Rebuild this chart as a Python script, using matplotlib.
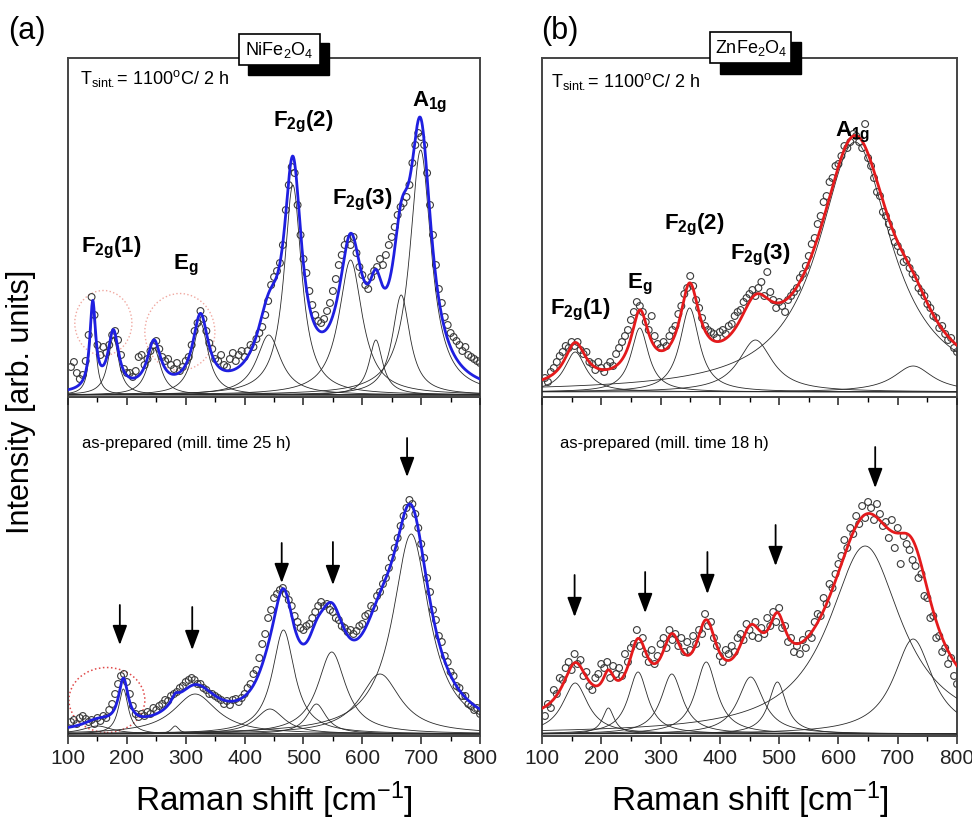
import numpy as np
import matplotlib
matplotlib.use('Agg')
import matplotlib.pyplot as plt
from matplotlib.patches import Ellipse, Rectangle
from matplotlib.ticker import MultipleLocator

plt.rcParams['font.family'] = ['Liberation Sans', 'DejaVu Sans']
plt.rcParams['mathtext.fontset'] = 'custom'
plt.rcParams['mathtext.rm'] = 'Liberation Sans'
plt.rcParams['mathtext.it'] = 'Liberation Sans:italic'
plt.rcParams['mathtext.bf'] = 'Liberation Sans:bold'

# measured Raman shift of the points (cm^-1), same for all four spectra
shift = np.arange(105, 801, 5)

# ---- NiFe2O4, sintered 1100 C / 2 h
ni_sint_counts = [28, 33, 22, 16, 20, 34, 60, 98, 80, 50,
                  40, 48, 42, 50, 60, 64, 55, 40, 26, 22,
                  22, 18, 24, 38, 40, 30, 36, 44, 50, 54,
                  46, 38, 34, 36, 30, 26, 32, 24, 28, 34,
                  38, 50, 64, 72, 84, 76, 64, 52, 46, 36,
                  34, 40, 30, 28, 36, 42, 34, 40, 44, 38,
                  44, 50, 48, 56, 62, 68, 80, 94, 110, 118,
                  124, 132, 150, 185, 210, 228, 222, 190, 160, 136,
                  122, 104, 90, 80, 74, 72, 76, 84, 92, 104,
                  116, 130, 140, 150, 156, 150, 158, 142, 128, 120,
                  110, 106, 118, 124, 128, 136, 130, 140, 150, 158,
                  168, 180, 188, 192, 198, 210, 232, 250, 262, 258,
                  250, 222, 190, 160, 130, 106, 92, 78, 70, 62,
                  58, 54, 50, 44, 48, 40, 38, 36, 34, 32]
ni_sint_centre = [142, 177, 246, 325, 441, 482, 580, 623, 666, 699]
ni_sint_height = [86, 58, 47, 72, 60, 210, 135, 55, 100, 245]
ni_sint_hwhm = [6, 11, 14, 16, 25, 18, 24, 14, 18, 22]

# ---- NiFe2O4, as-prepared (25 h)
ni_prep_counts = [12, 14, 10, 16, 18, 15, 12, 14, 10, 16,
                  13, 18, 16, 24, 30, 40, 50, 58, 60, 52,
                  40, 28, 20, 17, 20, 18, 22, 20, 26, 24,
                  28, 30, 34, 33, 38, 40, 42, 46, 48, 52,
                  54, 56, 54, 50, 50, 46, 44, 40, 40, 38,
                  36, 34, 30, 33, 29, 34, 35, 32, 36, 40,
                  46, 50, 60, 64, 76, 90, 100, 116, 124, 136,
                  140, 144, 146, 140, 134, 128, 118, 112, 106, 104,
                  108, 110, 116, 122, 128, 132, 128, 130, 124, 122,
                  116, 114, 108, 106, 102, 104, 100, 103, 108, 110,
                  118, 120, 128, 126, 138, 142, 150, 156, 166, 176,
                  186, 196, 208, 218, 226, 234, 230, 220, 206, 190,
                  176, 156, 142, 124, 114, 98, 92, 78, 72, 62,
                  58, 48, 46, 38, 38, 30, 28, 24, 26, 20]
ni_prep_centre = [150, 194, 282, 316, 443, 466, 522, 548, 630, 683]
ni_prep_height = [8, 45, 8, 40, 25, 104, 30, 82, 60, 200]
ni_prep_hwhm = [30, 10, 8, 45, 30, 23, 20, 29, 42, 38]
ni_arrow_pos = [188, 311, 463, 550, 676]
ni_arrow_tail = [129, 127, 191, 192, 296]
ni_arrow_tip = [89, 84, 151, 149, 257]

# ---- ZnFe2O4, sintered 1100 C / 2 h
zn_sint_counts = [14, 10, 20, 24, 30, 36, 40, 46, 44, 50,
                  46, 50, 42, 38, 40, 30, 28, 22, 30, 24,
                  20, 26, 30, 26, 38, 44, 50, 56, 62, 72,
                  80, 90, 86, 80, 70, 62, 76, 56, 48, 44,
                  50, 46, 56, 62, 66, 78, 86, 98, 104, 116,
                  106, 92, 84, 74, 66, 62, 60, 58, 54, 60,
                  62, 58, 66, 68, 76, 80, 82, 90, 94, 98,
                  102, 96, 104, 110, 96, 120, 100, 92, 84, 90,
                  86, 80, 92, 96, 100, 104, 114, 118, 126, 136,
                  148, 154, 168, 176, 190, 196, 210, 214, 226, 228,
                  236, 246, 244, 250, 258, 256, 250, 244, 268, 234,
                  226, 214, 200, 196, 180, 176, 168, 160, 150, 146,
                  140, 130, 132, 124, 118, 114, 104, 100, 96, 88,
                  84, 76, 74, 64, 66, 58, 52, 54, 44, 40]
zn_sint_centre = [156, 265, 349, 460, 628, 726]
zn_sint_height = [40, 64, 84, 52, 250, 26]
zn_sint_hwhm = [22, 18, 20, 35, 75, 40]

# ---- ZnFe2O4, as-prepared (18 h)
zn_prep_counts = [18, 30, 26, 44, 40, 56, 54, 66, 72, 64,
                  80, 70, 74, 58, 62, 48, 44, 56, 60, 70,
                  66, 72, 56, 68, 60, 66, 58, 80, 72, 86,
                  90, 104, 88, 96, 80, 72, 84, 70, 78, 90,
                  96, 86, 104, 94, 100, 88, 96, 82, 92, 84,
                  98, 90, 104, 100, 120, 108, 112, 96, 88, 78,
                  72, 84, 80, 88, 82, 96, 100, 94, 110, 104,
                  98, 112, 96, 106, 100, 116, 108, 122, 112, 126,
                  106, 108, 92, 96, 82, 88, 80, 94, 86, 100,
                  96, 112, 120, 118, 136, 130, 150, 146, 160, 170,
                  178, 194, 186, 206, 200, 218, 210, 228, 216, 232,
                  226, 214, 230, 220, 208, 212, 196, 214, 186, 206,
                  170, 198, 190, 184, 174, 168, 156, 160, 138, 136,
                  116, 118, 96, 98, 82, 86, 70, 76, 58, 50]
zn_prep_centre = [156, 212, 262, 319, 377, 452, 497, 645, 726]
zn_prep_height = [51, 26, 62, 60, 72, 57, 52, 188, 95]
zn_prep_hwhm = [26, 12, 20, 22, 22, 26, 18, 75, 40]
zn_prep_offset = 10
zn_arrow_pos = [155, 274, 379, 494, 662]
zn_arrow_tail = [159, 162, 182, 209, 287]
zn_arrow_tip = [117, 121, 140, 168, 246]


def lorentz(x, c, h, w):
    return h * w**2 / ((x - c)**2 + w**2)


grid = np.linspace(100, 800, 1401)

fig = plt.figure(figsize=(9.72, 8.24), dpi=100)
ax_a1 = fig.add_axes([0.0700, 0.5182, 0.4239, 0.4114])
ax_a2 = fig.add_axes([0.0700, 0.1068, 0.4239, 0.4114])
ax_b1 = fig.add_axes([0.5576, 0.5182, 0.4270, 0.4114])
ax_b2 = fig.add_axes([0.5576, 0.1068, 0.4270, 0.4114])
# upper panels on top so their outward ticks show on the divider
ax_a1.set_zorder(3)
ax_b1.set_zorder(3)


def panel(ax, counts, centre, height, hwhm, fitcol, offset=0):
    ax.scatter(shift, counts, s=24, facecolors='none', edgecolors='#3a3a3a',
               linewidths=0.8, zorder=2)
    total = np.zeros_like(grid) + offset
    for c, h, w in zip(centre, height, hwhm):
        comp = lorentz(grid, c, h, w)
        total += comp
        ax.plot(grid, comp, color='#2a2a2a', lw=0.6, zorder=3)
    ax.plot(grid, total, color=fitcol, lw=2.0, zorder=4)
    ax.set_xlim(100, 800)
    ax.set_yticks([])
    ax.xaxis.set_major_locator(MultipleLocator(100))
    ax.xaxis.set_minor_locator(MultipleLocator(50))
    ax.tick_params(axis='x', which='major', direction='out', length=6, width=1.1,
                   labelsize=15, colors='#222222')
    ax.tick_params(axis='x', which='minor', direction='out', length=3.5, width=1.0)
    for sp in ax.spines.values():
        sp.set_linewidth(1.4)
        sp.set_color('#444444')


panel(ax_a1, ni_sint_counts, ni_sint_centre, ni_sint_height, ni_sint_hwhm, '#1f1fe0')
panel(ax_a2, ni_prep_counts, ni_prep_centre, ni_prep_height, ni_prep_hwhm, '#1f1fe0')
panel(ax_b1, zn_sint_counts, zn_sint_centre, zn_sint_height, zn_sint_hwhm, '#e41a1c')
panel(ax_b2, zn_prep_counts, zn_prep_centre, zn_prep_height, zn_prep_hwhm, '#e41a1c',
      offset=zn_prep_offset)

ax_a1.set_ylim(-2, 337)
ax_b1.set_ylim(-5, 334)
ax_a2.set_ylim(-2, 337)
ax_b2.set_ylim(-2, 337)
for ax in (ax_a1, ax_b1):
    ax.tick_params(labelbottom=False)
for ax in (ax_a2, ax_b2):
    ax.set_xlabel(r'Raman shift [cm$^{-1}$]', fontsize=24, labelpad=8)

# peak labels
lab_kw = dict(fontsize=16, ha='left', va='center', zorder=6)
ax_a1.text(122, 147, r'$\mathbf{F_{2g}(1)}$', **lab_kw)
ax_a1.text(278, 130, r'$\mathbf{E_{g}}$', **lab_kw)
ax_a1.text(448, 273, r'$\mathbf{F_{2g}(2)}$', **lab_kw)
ax_a1.text(548, 195, r'$\mathbf{F_{2g}(3)}$', **lab_kw)
ax_a1.text(684, 293, r'$\mathbf{A_{1g}}$', **lab_kw)
ax_b1.text(113, 82, r'$\mathbf{F_{2g}(1)}$', **lab_kw)
ax_b1.text(243, 108, r'$\mathbf{E_{g}}$', **lab_kw)
ax_b1.text(305, 167, r'$\mathbf{F_{2g}(2)}$', **lab_kw)
ax_b1.text(417, 137, r'$\mathbf{F_{2g}(3)}$', **lab_kw)
ax_b1.text(594, 260, r'$\mathbf{A_{1g}}$', **lab_kw)

tsint = r'T$_{\rm sint.}$= 1100$^{\rm o}$C/ 2 h'
ax_a1.text(120, 317, tsint, fontsize=13, ha='left', va='center')
ax_b1.text(116, 311, tsint, fontsize=13, ha='left', va='center')
ax_a2.text(123, 291, 'as-prepared (mill. time 25 h)', fontsize=12, ha='left', va='center')
ax_b2.text(130, 291, 'as-prepared (mill. time 18 h)', fontsize=12, ha='left', va='center')

# sample name boxes with black shadow (axes fractions)
boxes = [(ax_a1, r'NiFe$_2$O$_4$', (0.437, 0.950), (0.415, 0.979)),
         (ax_b1, r'ZnFe$_2$O$_4$', (0.429, 0.953), (0.405, 0.985))]
for ax, name, sh, bx in boxes:
    ax.add_patch(Rectangle(sh, 0.196, 0.094, transform=ax.transAxes, fc='black',
                           ec='black', clip_on=False, zorder=10))
    ax.add_patch(Rectangle(bx, 0.196, 0.092, transform=ax.transAxes, fc='white',
                           ec='black', lw=1.2, clip_on=False, zorder=11))
    ax.text(bx[0] + 0.098, bx[1] + 0.044, name, fontsize=13, ha='center', va='center',
            transform=ax.transAxes, clip_on=False, zorder=12)

# arrows
arr = dict(arrowstyle='-|>,head_length=0.75,head_width=0.28', color='black', lw=1.3,
           mutation_scale=16, shrinkA=0, shrinkB=0)
for x, t0, t1 in zip(ni_arrow_pos, ni_arrow_tail, ni_arrow_tip):
    ax_a2.annotate('', xy=(x, t1), xytext=(x, t0), arrowprops=arr, zorder=7)
for x, t0, t1 in zip(zn_arrow_pos, zn_arrow_tail, zn_arrow_tip):
    ax_b2.annotate('', xy=(x, t1), xytext=(x, t0), arrowprops=arr, zorder=7)

# dotted circles
ax_a1.add_patch(Ellipse((160, 72), 97, 65, fill=False, ls=':', ec='#f0a8a0', lw=1.0, zorder=1))
ax_a1.add_patch(Ellipse((290, 63), 119, 77, fill=False, ls=':', ec='#f0a8a0', lw=1.0, zorder=1))
ax_a2.add_patch(Ellipse((166, 34), 129, 65, fill=False, ls=':', ec='#e04848', lw=1.1, zorder=1))

fig.text(0.028, 0.962, '(a)', fontsize=22, ha='center', va='center')
fig.text(0.576, 0.962, '(b)', fontsize=22, ha='center', va='center')
fig.text(0.022, 0.512, 'Intensity [arb. units]', fontsize=22, rotation=90,
         ha='center', va='center')

fig.savefig('out.png', dpi=100)
